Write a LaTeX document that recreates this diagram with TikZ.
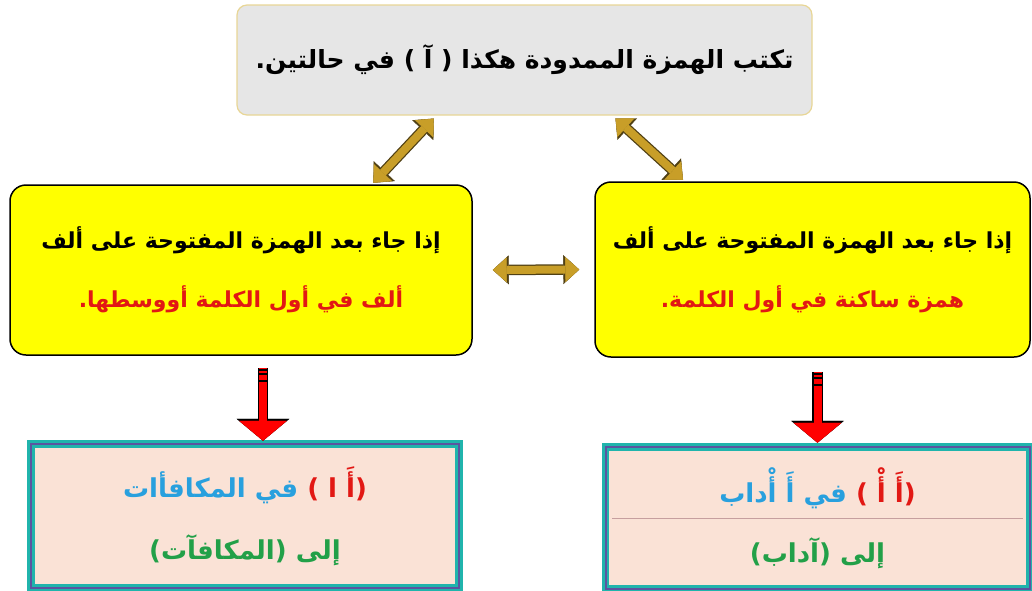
\documentclass[tikz,border=0pt]{standalone}
\usepackage{fontspec}
\newfontfamily\arabicfont[Script=Arabic]{DejaVu Sans}
\TeXXeTstate=1
\usetikzlibrary{positioning,arrows.meta}
\definecolor{boxgrey}{RGB}{230,230,230}
\definecolor{topline}{RGB}{232,214,150}
\definecolor{condyellow}{RGB}{255,255,0}
\definecolor{textred}{RGB}{226,24,20}
\definecolor{textblue}{RGB}{40,160,222}
\definecolor{textgreen}{RGB}{34,160,72}
\definecolor{peach}{RGB}{250,226,214}
\definecolor{frameteal}{RGB}{32,180,172}
\definecolor{frameslate}{RGB}{92,84,160}
\definecolor{gold}{RGB}{200,158,40}
\definecolor{goldline}{RGB}{80,64,20}
\begin{document}
\begin{tikzpicture}[x=1pt, y=-1pt, thick,
  main/.style = {draw=topline, line width=1.2pt, fill=boxgrey, rounded corners=10pt,
    minimum width=575pt, minimum height=110pt, font=\arabicfont\bfseries\fontsize{25}{30}\selectfont},
  cond/.style = {draw=black, line width=1.5pt, fill=condyellow, rounded corners=16pt,
    align=center, font=\arabicfont\bfseries\fontsize{22}{27}\selectfont},
  result/.style = {draw=frameteal, line width=2.8pt, double=frameslate, double distance=2pt,
    fill=peach, align=center, font=\arabicfont\bfseries\fontsize{26}{30}\selectfont},
  link/.style = {draw=gold, line width=8pt,
    {Triangle[length=14pt,width=25pt,line width=0.4pt]}-{Triangle[length=14pt,width=25pt,line width=0.4pt]},
    preaction={draw=goldline, line width=10.5pt,
    {Triangle[length=16pt,width=29pt,line width=0.4pt]}-{Triangle[length=16pt,width=29pt,line width=0.4pt]}}},
  down/.style = {draw=red, line width=8pt, -{Triangle[length=20pt,width=48pt,line width=0.4pt]},
    preaction={draw=black, line width=10.5pt, -{Triangle[length=22pt,width=53pt,line width=0.4pt]}}},
  stripe/.style = {draw=black, line width=1.6pt}]
\useasboundingbox (0,0) rectangle (1032,590);

% top statement
\node[main] (1) at (524.5,60) {\beginR تكتب الهمزة الممدودة هكذا ( آ ) في حالتين.\endR};

% the two cases
\node[cond, minimum width=462pt, minimum height=170pt] (2) at (241,270)
  {\beginR إذا جاء بعد الهمزة المفتوحة على ألف\endR\\[31pt]
   \textcolor{textred}{\beginR ألف في أول الكلمة أووسطها.\endR}};
\node[cond, minimum width=435pt, minimum height=175pt] (3) at (812.5,269.5)
  {\beginR إذا جاء بعد الهمزة المفتوحة على ألف\endR\\[31pt]
   \textcolor{textred}{\beginR همزة ساكنة في أول الكلمة.\endR}};

% results
\node[result, minimum width=428pt, minimum height=144pt] (4) [below=87pt of 2, xshift=4pt]
  {\textcolor{textblue}{\beginR في المكافأات\endR} \textcolor{textred}{\beginR (أَ ا )\endR}\\[30pt]
   \textcolor{textgreen}{\beginR إلى (المكافآت)\endR}};
\node[result, minimum width=424pt, minimum height=142pt] (5) [below=88pt of 3, xshift=5pt]
  {\textcolor{textblue}{\beginR في أَ أْداب\endR} \textcolor{textred}{\beginR (أَ أْ )\endR}\\[28pt]
   \textcolor{textgreen}{\beginR إلى (آداب)\endR}};
\draw[red!25!gray!60, line width=0.6pt] ([xshift=8pt]5.west) -- ([xshift=-8pt]5.east);

\draw[link, shorten <=2pt, shorten >=4pt] ([xshift=131pt]2.north) -- ([xshift=-88pt]1.south);
\draw[link, shorten <=4pt, shorten >=2pt] ([xshift=88pt]1.south) -- ([xshift=-128pt]3.north);
\draw[link, shorten <=20pt, shorten >=15pt] (2.east) -- (3.west);

\coordinate (a) at ([xshift=22pt,yshift=-12pt]2.south);
\coordinate (b) at ([xshift=5pt,yshift=-14pt]3.south);
\draw[down] (a) -- ([yshift=2pt]a |- 4.north);
\draw[down] (b) -- ([yshift=3pt]b |- 5.north);
\foreach \d in {2,6,13} {
  \draw[stripe] ([xshift=-5pt,yshift=-\d pt]a) -- ([xshift=5pt,yshift=-\d pt]a);
  \draw[stripe] ([xshift=-5pt,yshift=-\d pt]b) -- ([xshift=5pt,yshift=-\d pt]b);
}
\end{tikzpicture}
\end{document}
